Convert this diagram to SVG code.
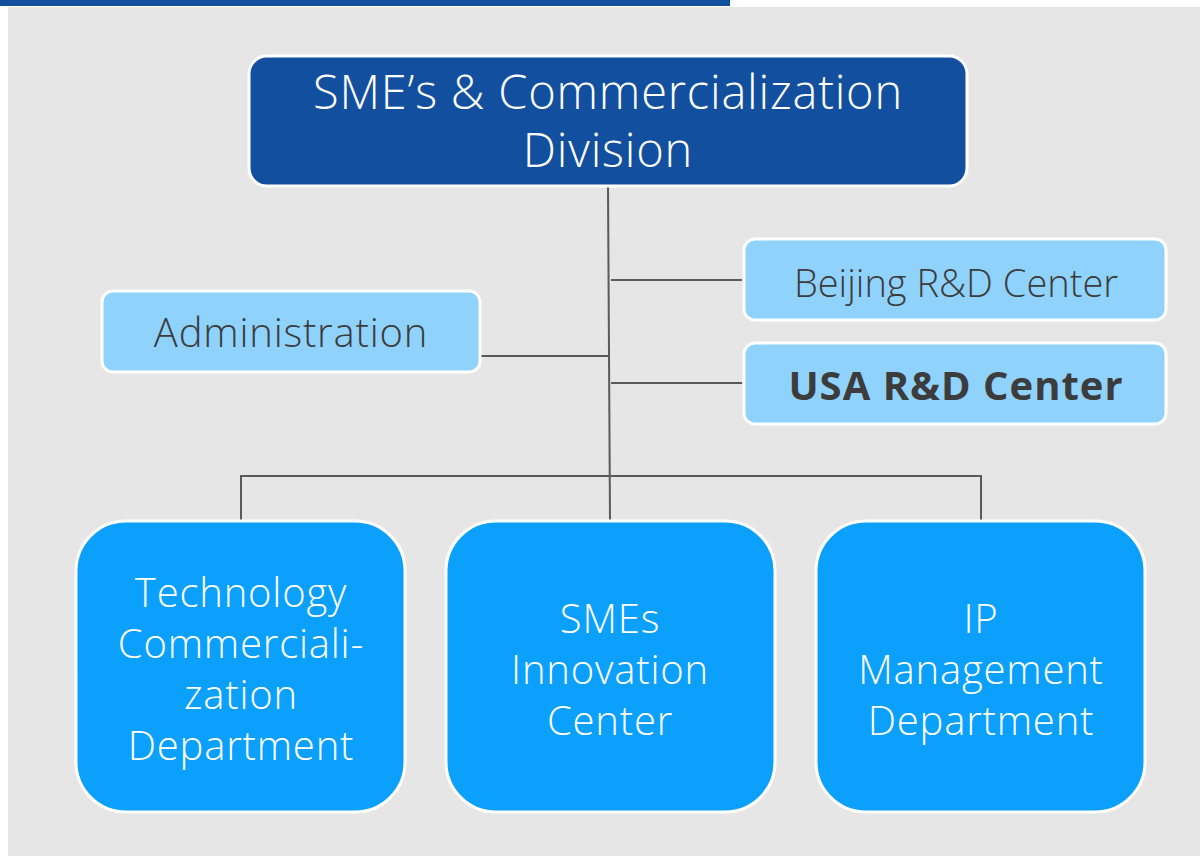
<svg xmlns="http://www.w3.org/2000/svg" width="1200" height="856" viewBox="0 0 1200 856">
<style>
.top{fill:#134f9f;stroke:#ffffff;stroke-width:3}
.side{fill:#8fd2fb;stroke:#ffffff;stroke-width:3}
.dept{fill:#0ba0fc;stroke:#ffffff;stroke-width:3}
.wt{fill:#ffffff;font-family:"Open Sans","Noto Sans","Liberation Sans",sans-serif;font-weight:300;text-anchor:middle}
.dk{fill:#3c3c3c;font-family:"Open Sans","Noto Sans","Liberation Sans",sans-serif;font-weight:300;text-anchor:middle}
.conn{stroke:#5a5a5a;stroke-width:2;fill:none}
</style>
<rect x="0" y="0" width="1200" height="856" fill="#ffffff"/>
<rect x="8" y="7" width="1192" height="849" fill="#e6e6e6"/>
<rect x="0" y="0" width="730" height="6" fill="#134f9f"/>
<g id="connectors">
<path class="conn" d="M608 186 L610 521"/>
<path class="conn" d="M611 280 H742"/>
<path class="conn" d="M611 383 H742"/>
<path class="conn" d="M481 356 H610"/>
<path class="conn" d="M241 521 V476 H981 V521"/>
</g>
<g id="division">
<rect class="top" x="249" y="56" width="718" height="130" rx="18"/>
<text class="wt" font-size="47" letter-spacing="0.8" x="608" y="109">SME’s &amp; Commercialization</text>
<text class="wt" font-size="47" letter-spacing="0.8" x="608" y="167">Division</text>
</g>
<g id="beijing">
<rect class="side" x="744" y="239" width="422" height="81" rx="11"/>
<text class="dk" font-size="38" x="956" y="297">Beijing R&amp;D Center</text>
</g>
<g id="usa">
<rect class="side" x="744" y="343" width="422" height="81" rx="11"/>
<text class="dk" font-size="40" font-weight="700" style="font-weight:700" letter-spacing="1" x="956" y="400">USA R&amp;D Center</text>
</g>
<g id="admin">
<rect class="side" x="102" y="291" width="378" height="81" rx="11"/>
<text class="dk" font-size="40" letter-spacing="0.8" x="291" y="347">Administration</text>
</g>
<g id="tech">
<rect class="dept" x="76" y="521" width="329" height="291" rx="50"/>
<text class="wt" font-size="40" letter-spacing="0.8" x="241" y="607">Technology</text>
<text class="wt" font-size="40" letter-spacing="0.8" x="241" y="658">Commerciali-</text>
<text class="wt" font-size="40" letter-spacing="0.8" x="241" y="709">zation</text>
<text class="wt" font-size="40" letter-spacing="0.8" x="241" y="760">Department</text>
</g>
<g id="smes">
<rect class="dept" x="446" y="521" width="329" height="291" rx="50"/>
<text class="wt" font-size="40" letter-spacing="0.8" x="610" y="633">SMEs</text>
<text class="wt" font-size="40" letter-spacing="0.8" x="610" y="684">Innovation</text>
<text class="wt" font-size="40" letter-spacing="0.8" x="610" y="735">Center</text>
</g>
<g id="ip">
<rect class="dept" x="816" y="521" width="329" height="291" rx="50"/>
<text class="wt" font-size="40" letter-spacing="0.8" x="981" y="633">IP</text>
<text class="wt" font-size="40" letter-spacing="0.8" x="981" y="684">Management</text>
<text class="wt" font-size="40" letter-spacing="0.8" x="981" y="735">Department</text>
</g>
</svg>
